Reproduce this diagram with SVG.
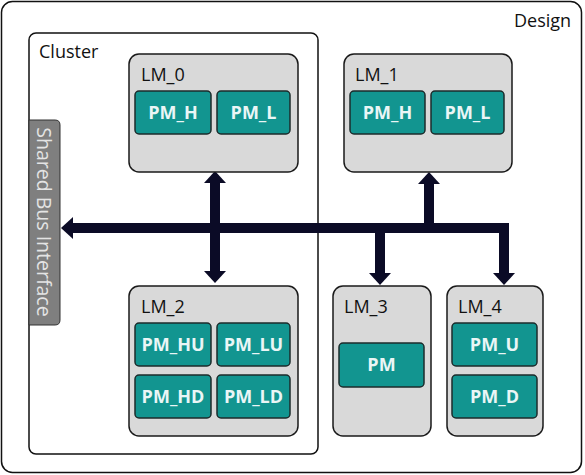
<svg xmlns="http://www.w3.org/2000/svg" width="585" height="475" viewBox="0 0 585 475">
<defs>
<style>
.box{fill:#fff;stroke:#111;stroke-width:1.5}
.lm{fill:#d9d9d9;stroke:#1a1a1a;stroke-width:1.5}
.pm{fill:#129590;stroke:#1c2b2b;stroke-width:1.5}
.lbl{font-family:"Open Sans","Noto Sans",sans-serif;font-size:18px;fill:#111}
.pmt{font-family:"Open Sans","Noto Sans",sans-serif;font-size:18px;font-weight:bold;fill:#eaf6f6;text-anchor:middle}
.bus{stroke:#0b0b26;stroke-width:10;fill:none;stroke-linejoin:miter}
</style>
<marker id="ah" viewBox="0 0 12 22" refX="0" refY="11" markerWidth="12" markerHeight="22" markerUnits="userSpaceOnUse" orient="auto">
<path d="M0,0 L12,11 L0,22 Z" fill="#0b0b26"/>
</marker>
</defs>
<g id="design"><rect class="box" x="1.5" y="1.5" width="580" height="471" rx="11"/><text class="lbl" x="514" y="27">Design</text></g>
<g id="cluster"><rect class="box" x="29" y="33" width="289" height="421" rx="7"/><text class="lbl" x="39" y="58">Cluster</text></g>
<g id="sbi"><path d="M29,120 H55 Q60,120 60,125 V320 Q60,325 55,325 H29 Z" fill="#7f7f7f" stroke="#333" stroke-width="1"/><text class="lbl" x="44" y="222" transform="rotate(90 44 222)" text-anchor="middle" dominant-baseline="central" style="fill:#e4e4e4;font-size:19.5px">Shared Bus Interface</text></g>
<g id="connectors">
<path class="bus" d="M504,228 H73" marker-end="url(#ah)"/>
<path class="bus" d="M504,223 V273" marker-end="url(#ah)"/>
<path class="bus" d="M429,228 V184" marker-end="url(#ah)"/>
<path class="bus" d="M380,228 V273" marker-end="url(#ah)"/>
<path class="bus" d="M215,228 V183" marker-end="url(#ah)"/>
<path class="bus" d="M215,228 V271" marker-end="url(#ah)"/>
</g>
<g id="lm0"><rect class="lm" x="129" y="54" width="169" height="118" rx="10"/><text class="lbl" x="141" y="81">LM_0</text>
<g id="lm0_pmh"><rect class="pm" x="135" y="91" width="76" height="43" rx="4"/><text class="pmt" x="173" y="119">PM_H</text></g>
<g id="lm0_pml"><rect class="pm" x="217" y="91" width="73" height="43" rx="4"/><text class="pmt" x="253.5" y="119">PM_L</text></g></g>
<g id="lm1"><rect class="lm" x="344" y="54" width="168" height="118" rx="10"/><text class="lbl" x="355" y="81">LM_1</text>
<g id="lm1_pmh"><rect class="pm" x="350" y="91" width="75" height="43" rx="4"/><text class="pmt" x="387.5" y="119">PM_H</text></g>
<g id="lm1_pml"><rect class="pm" x="431" y="91" width="73" height="43" rx="4"/><text class="pmt" x="467.5" y="119">PM_L</text></g></g>
<g id="lm2"><rect class="lm" x="129" y="286" width="169" height="150" rx="10"/><text class="lbl" x="141" y="313">LM_2</text>
<g id="lm2_pmhu"><rect class="pm" x="135" y="323" width="76" height="43" rx="4"/><text class="pmt" x="173" y="351">PM_HU</text></g>
<g id="lm2_pmlu"><rect class="pm" x="217" y="323" width="73" height="43" rx="4"/><text class="pmt" x="253.5" y="351">PM_LU</text></g>
<g id="lm2_pmhd"><rect class="pm" x="135" y="375" width="76" height="43" rx="4"/><text class="pmt" x="173" y="403">PM_HD</text></g>
<g id="lm2_pmld"><rect class="pm" x="217" y="375" width="73" height="43" rx="4"/><text class="pmt" x="253.5" y="403">PM_LD</text></g></g>
<g id="lm3"><rect class="lm" x="333" y="286" width="98" height="150" rx="10"/><text class="lbl" x="344" y="313">LM_3</text>
<g id="lm3_pm"><rect class="pm" x="339" y="343" width="85" height="44" rx="4"/><text class="pmt" x="381.5" y="371">PM</text></g></g>
<g id="lm4"><rect class="lm" x="447" y="286" width="96" height="150" rx="10"/><text class="lbl" x="458" y="313">LM_4</text>
<g id="lm4_pmu"><rect class="pm" x="452" y="323" width="85" height="43" rx="4"/><text class="pmt" x="494.5" y="351">PM_U</text></g>
<g id="lm4_pmd"><rect class="pm" x="452" y="375" width="85" height="43" rx="4"/><text class="pmt" x="494.5" y="403">PM_D</text></g></g>
</svg>
